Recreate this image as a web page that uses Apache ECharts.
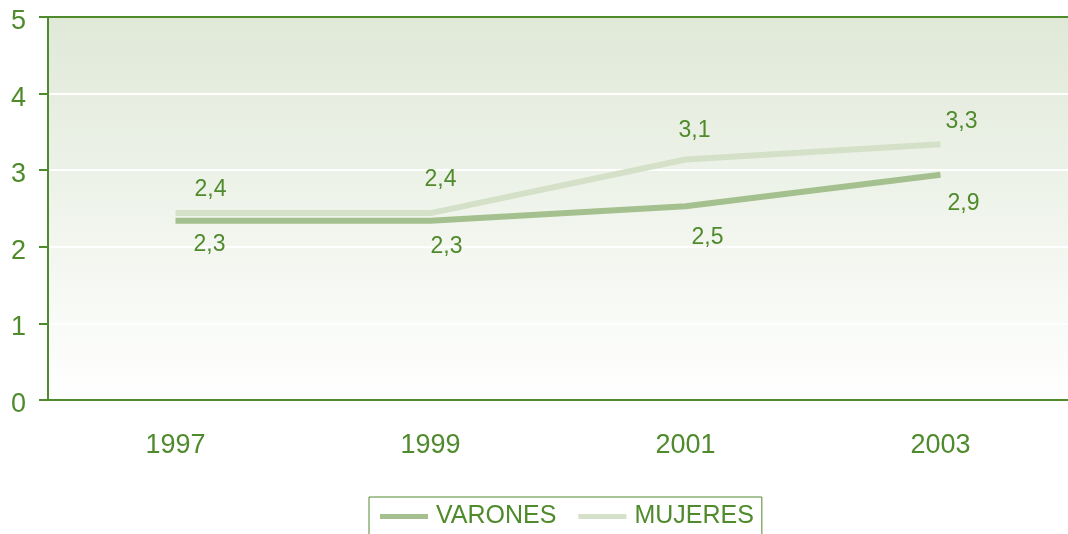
<!DOCTYPE html>
<html>
<head>
<meta charset="utf-8">
<script src="https://cdn.jsdelivr.net/npm/echarts@6/dist/echarts.min.js"></script>
<style>
  html, body { margin: 0; padding: 0; background: #fff; }
  #chart { width: 1068px; height: 534px; }
</style>
</head>
<body>
<div id="chart"></div>
<script>
const years = ["1997", "1999", "2001", "2003"];
const varones = [2.34, 2.34, 2.53, 2.94];
const mujeres = [2.44, 2.44, 3.14, 3.34];

// label nudges (px) from each point, as placed in the original
const varonesLabelShift = [[34, 24], [16, 26], [22, 31], [23, 29]];
const mujeresLabelShift = [[35, -23], [10, -33], [9, -29], [21, -22]];

const green = "#4f8a2c";
const fmt = (p) => p.value.toFixed(1).replace(".", ",");

const withLabels = (values, shifts) =>
  values.map((v, i) => ({ value: v, label: { offset: shifts[i] } }));

const chart = echarts.init(document.getElementById("chart"));

chart.setOption({
  animation: false,
  textStyle: { fontFamily: "Liberation Sans, Arial, sans-serif" },
  grid: {
    left: 48,
    right: 0,
    top: 17,
    bottom: 134,
    show: true,
    borderWidth: 0,
    backgroundColor: new echarts.graphic.LinearGradient(0, 0, 0, 1, [
      { offset: 0, color: "#e0e9d8" },
      { offset: 1, color: "#ffffff" },
    ]),
  },
  legend: {
    top: 497,
    left: 369,
    icon: "rect",
    itemWidth: 48,
    itemHeight: 5,
    itemGap: 22,
    padding: [7, 8, 30, 11],
    borderColor: green,
    borderWidth: 1,
    textStyle: { color: green, fontSize: 25, padding: [0, 0, 0, 3] },
    data: ["VARONES", "MUJERES"],
  },
  xAxis: {
    type: "category",
    data: years,
    boundaryGap: true,
    axisLine: { lineStyle: { color: green, width: 2 } },
    axisTick: { length: 9, lineStyle: { color: green, width: 2 } },
    axisLabel: { color: green, fontSize: 27, margin: 32 },
    splitLine: { show: false },
  },
  yAxis: {
    type: "value",
    min: 0,
    max: 5,
    interval: 1,
    axisLine: { show: true, lineStyle: { color: green, width: 2 } },
    axisTick: { show: true, length: 9, lineStyle: { color: green, width: 2 } },
    axisLabel: {
      color: green,
      fontSize: 27,
      margin: 22,
      formatter: "{v|{value}}",
      rich: { v: { color: green, fontSize: 27, padding: [9, 0, 0, 0] } },
    },
    splitLine: { show: true, lineStyle: { color: "#ffffff", width: 2 } },
  },
  series: [
    {
      name: "VARONES",
      type: "line",
      data: withLabels(varones, varonesLabelShift),
      showSymbol: true,
      symbol: "circle",
      symbolSize: 0,
      color: "#a4c08f",
      lineStyle: { width: 6, color: "#a4c08f" },
      label: {
        show: true,
        position: "inside",
        color: green,
        fontSize: 23,
        formatter: fmt,
      },
      z: 3,
    },
    {
      name: "MUJERES",
      type: "line",
      data: withLabels(mujeres, mujeresLabelShift),
      showSymbol: true,
      symbol: "circle",
      symbolSize: 0,
      color: "#d4e0c7",
      lineStyle: { width: 6, color: "#d4e0c7" },
      label: {
        show: true,
        position: "inside",
        color: green,
        fontSize: 23,
        formatter: fmt,
      },
      z: 2,
    },
    {
      // top border line of the plot area
      type: "line",
      data: [],
      markLine: {
        silent: true,
        symbol: "none",
        label: { show: false },
        lineStyle: { color: green, width: 2, type: "solid" },
        data: [{ yAxis: 5 }],
      },
    },
  ],
});

window.addEventListener("resize", () => {
  chart.resize();
});
</script>
</body>
</html>
